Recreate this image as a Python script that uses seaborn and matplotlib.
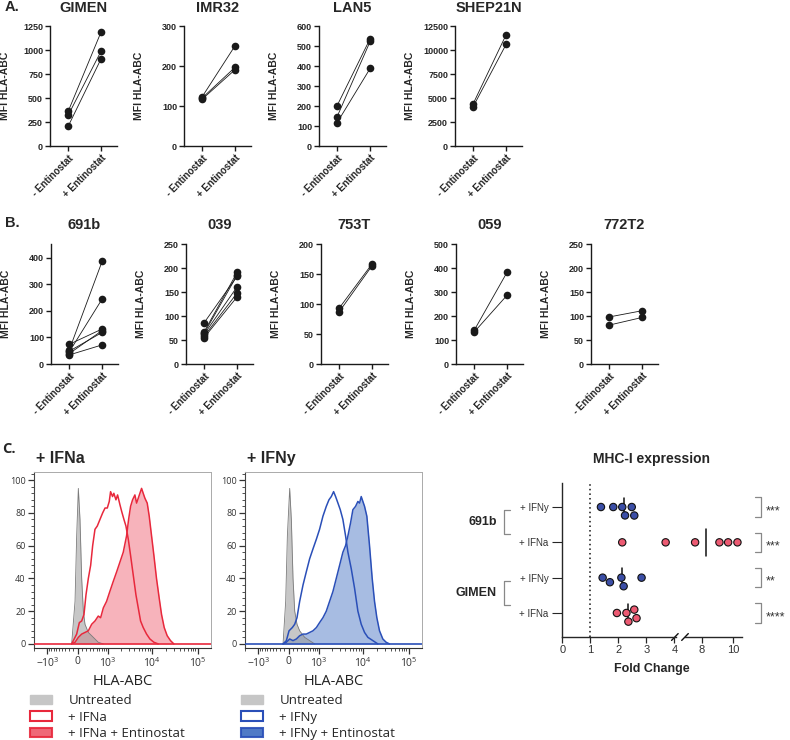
import matplotlib
matplotlib.use('Agg')
import matplotlib.pyplot as plt
import matplotlib.ticker as mticker
import matplotlib.transforms as mtransforms
from matplotlib.patches import Patch
import numpy as np
import pandas as pd
import seaborn as sns

# ---- panel A / B : paired MFI values (- / + Entinostat) ----
COND = ['- Entinostat', '+ Entinostat']

A_NAMES = ['GIMEN', 'IMR32', 'LAN5', 'SHEP21N']
A_MINUS = [[360, 320, 205], [123, 120, 117], [202, 147, 117], [4400, 4100]]
A_PLUS = [[1190, 990, 910], [251, 197, 191], [537, 523, 388], [11600, 10600]]
A_YTICKS = [[0, 250, 500, 750, 1000, 1250], [0, 100, 200, 300],
            [0, 100, 200, 300, 400, 500, 600], [0, 2500, 5000, 7500, 10000, 12500]]
A_YMAX = [1250, 300, 600, 12500]

B_NAMES = ['691b', '039', '753T', '059', '772T2']
B_MINUS = [[52, 45, 74, 39, 48, 34], [86, 67, 62, 58, 55, 64], [93, 87], [140, 133], [98, 81]]
B_PLUS = [[387, 245, 132, 126, 119, 72], [183, 191, 161, 148, 140, 185], [167, 164], [383, 287], [111, 97]]
B_YTICKS = [[0, 100, 200, 300, 400], [0, 50, 100, 150, 200, 250], [0, 50, 100, 150, 200],
            [0, 100, 200, 300, 400, 500], [0, 50, 100, 150, 200, 250]]
B_YMAX = [452, 250, 200, 500, 250]

# ---- panel C : flow histograms (HLA-ABC intensity, % of max) ----
IFNA_UNT_X = [-140, -61, -23, 15, 53, 92, 131, 171, 256, 397, 562, 768]
IFNA_UNT_Y = [0, 26, 66, 95, 76, 40, 20, 12, 7, 4, 1, 0]
IFNA_ONE_X = [-140, -23, 38, 92, 147, 196, 256, 319, 377, 449, 527, 626, 738, 849, 964, 1076,
              1157, 1287, 1380, 1543, 1683, 1904, 2080, 2345, 2597, 2930, 3300, 3785, 4340,
              4887, 5500, 6295, 7470, 8850, 10850, 13500]
IFNA_ONE_Y = [0, 6, 13, 14, 18, 30, 40, 48, 60, 70, 72, 76, 80, 83, 83, 87,
              93, 90, 92, 88, 91, 85, 81, 76, 72, 64, 54, 42, 30,
              22, 14, 10, 6, 3, 1, 0]
IFNA_ENT_X = [-140, -61, 15, 92, 171, 256, 348, 449, 562, 653, 768, 927, 1110, 1330, 1600,
              1904, 2262, 2685, 2980, 3300, 3654, 4117, 4487, 4887, 5318, 5790, 6295, 6860,
              7720, 8550, 9630, 10850, 12380, 14200, 16000, 18330, 21330, 25270, 29940]
IFNA_ENT_Y = [0, 1, 4, 6, 7, 8, 12, 14, 17, 16, 22, 26, 32, 38, 44,
              50, 56, 66, 76, 84, 88, 91, 86, 89, 92, 95, 92, 89,
              86, 78, 66, 54, 40, 28, 18, 10, 5, 2, 0]

IFNY_UNT_X = [-131, -69, -30, 23, 61, 100, 140, 196, 265, 407, 576, 783]
IFNY_UNT_Y = [0, 26, 66, 95, 76, 40, 20, 12, 8, 4, 2, 0]
IFNY_ONE_X = [-131, -53, 8, 84, 140, 196, 265, 358, 459, 576, 708, 866, 1036, 1245, 1490, 1715,
              1940, 2187, 2425, 2737, 3083, 3530, 4047, 4564, 5405, 6408, 7590, 9000, 10660,
              12630, 16280, 20960]
IFNY_ONE_Y = [0, 2, 8, 10, 12, 16, 26, 36, 44, 52, 58, 64, 70, 78, 84, 88,
              90, 93, 90, 86, 82, 76, 66, 56, 46, 34, 20, 12, 7,
              4, 2, 0]
IFNY_ENT_X = [-131, -53, 23, 100, 180, 265, 358, 459, 576, 708, 866, 1036, 1245, 1490, 1775,
              2111, 2511, 2980, 3530, 4047, 4564, 5230, 5886, 6740, 7590, 8265, 9000, 9790,
              10660, 11980, 13730, 15720, 17700, 19930, 22820, 27020, 32000, 37900]
IFNY_ENT_Y = [0, 1, 3, 2, 3, 5, 6, 6, 7, 8, 10, 13, 16, 20, 26,
              32, 40, 48, 56, 60, 66, 74, 82, 84, 87, 86, 90, 87,
              84, 78, 60, 40, 26, 16, 8, 3, 1, 0]

HIST_TICKS = [-1000, 0, 1000, 10000, 100000]
HIST_TICKLABELS = ['$-10^3$', '0', '$10^3$', '$10^4$', '$10^5$']

# ---- panel C : MHC-I fold change ----
MHC_ROWS = ['691b + IFNy', '691b + IFNa', 'GIMEN + IFNy', 'GIMEN + IFNa']
MHC_TICKLABELS = ['+ IFNy', '+ IFNa', '+ IFNy', '+ IFNa']
MHC_TREAT = ['IFNy', 'IFNa', 'IFNy', 'IFNa']
MHC_VALUES = [[1.38, 1.82, 2.14, 2.24, 2.48, 2.57],
              [2.14, 3.69, 7.58, 9.12, 9.67, 10.26],
              [1.44, 1.70, 2.11, 2.19, 2.83],
              [1.95, 2.29, 2.36, 2.57, 2.65]]
MHC_CENTER = [2.19, 8.3, 2.12, 2.36]
MHC_STARS = ['***', '***', '**', '****']
MHC_CELLS = ['691b', 'GIMEN']

RED_LINE = '#e8283c'
RED_FILL = '#ee5868'
BLUE_LINE = '#2a4fb8'
BLUE_FILL = '#3d6cc0'
DOT_RED = '#ec5a72'
DOT_BLUE = '#3b4ea6'

sns.set_style('ticks')
plt.rcParams['font.family'] = ['Liberation Sans', 'DejaVu Sans']
plt.rcParams['mathtext.default'] = 'regular'

W, H = 790, 740
fig = plt.figure(figsize=(W / 100, H / 100), dpi=100)


def px_axes(left, top, right, bottom):
    return fig.add_axes([left / W, 1 - bottom / H, (right - left) / W, (bottom - top) / H])


def paired_panel(ax, name, minus, plus, yticks, ytop, pad):
    n = len(minus)
    df = pd.DataFrame({'cond': [COND[0]] * n + [COND[1]] * n,
                       'mfi': minus + plus,
                       'rep': list(range(n)) * 2})
    sns.lineplot(data=df, x='cond', y='mfi', units='rep', estimator=None, sort=False,
                 color='#1a1a1a', lw=0.6, marker='o', markersize=5.5,
                 markeredgewidth=0, ax=ax)
    ax.set_xlim(-0.55, 1.48)
    ax.set_ylim(0, ytop)
    ax.set_yticks(yticks)
    ax.set_yticklabels([str(t) for t in yticks], fontsize=6.5, fontweight='bold')
    ax.set_xticks([0, 1])
    ax.set_xticklabels(COND, rotation=45, ha='right', rotation_mode='anchor',
                       fontsize=7, fontweight='bold')
    ax.set_xlabel('')
    ax.set_ylabel('MFI HLA-ABC', fontsize=7.5, fontweight='bold')
    ax.yaxis.set_label_coords(-0.6, 0.5)
    ax.set_title(name, fontsize=10.5, fontweight='bold', pad=pad)
    sns.despine(ax=ax)
    for s in ['left', 'bottom']:
        ax.spines[s].set_linewidth(1.0)
        ax.spines[s].set_color('#1a1a1a')
    ax.tick_params(length=3.5, width=1.0, color='#1a1a1a', pad=1.5)


for i, left in enumerate([50, 184, 319, 455]):
    ax = px_axes(left, 26, left + 67, 146)
    paired_panel(ax, A_NAMES[i], A_MINUS[i], A_PLUS[i], A_YTICKS[i], A_YMAX[i], 10)

for i, left in enumerate([51, 186, 321, 456, 591]):
    ax = px_axes(left, 244, left + 67, 364)
    paired_panel(ax, B_NAMES[i], B_MINUS[i], B_PLUS[i], B_YTICKS[i], B_YMAX[i], 11)

fig.text(5 / W, 1 - 7 / H, 'A.', fontsize=10.5, fontweight='bold', va='center')
fig.text(5 / W, 1 - 223 / H, 'B.', fontsize=10.5, fontweight='bold', va='center')
fig.text(2 / W, 1 - 449 / H, 'C.', fontsize=10.5, fontweight='bold', va='center',
         family='Open Sans')


# ---- flow histograms ----
def flow_panel(ax, title, unt, one, ent, line_c, fill_c, labels):
    ax.set_xscale('asinh', linear_width=450)
    ax.fill_between(ent[0], ent[1], color=fill_c, alpha=0.45, lw=0, zorder=1)
    ax.fill_between(unt[0], unt[1], color='#9a9a9a', alpha=0.55, lw=0, zorder=2)
    sns.lineplot(x=unt[0], y=unt[1], sort=False, color='#7a7a7a', lw=0.6, ax=ax, zorder=3)
    sns.lineplot(x=one[0], y=one[1], sort=False, color=line_c, lw=1.1, ax=ax, zorder=4)
    sns.lineplot(x=ent[0], y=ent[1], sort=False, color=line_c, lw=1.1, ax=ax, zorder=4)
    ax.axhline(0, color=line_c, lw=1.2, zorder=5)
    ax.set_xlim(-2050, 198000)
    ax.set_ylim(-2.5, 105)
    ax.xaxis.set_major_locator(mticker.FixedLocator(HIST_TICKS))
    ax.xaxis.set_major_formatter(mticker.FixedFormatter(HIST_TICKLABELS))
    minor = ([-m for m in range(100, 1000, 100)] + [-2000] + list(range(100, 1000, 100))
             + list(range(2000, 10000, 1000)) + list(range(20000, 100000, 10000)))
    ax.xaxis.set_minor_locator(mticker.FixedLocator(minor))
    ax.xaxis.set_minor_formatter(mticker.NullFormatter())
    ax.yaxis.set_major_locator(mticker.MultipleLocator(20))
    ax.yaxis.set_minor_locator(mticker.AutoMinorLocator(5))
    ax.tick_params(axis='both', which='major', length=4, width=0.9, color='#333333',
                   labelsize=6.5, labelcolor='#333333', pad=2)
    ax.tick_params(axis='x', which='major', labelsize=7.5)
    ax.tick_params(axis='both', which='minor', length=2, width=0.6, color='#333333')
    for lab in ax.get_xticklabels() + ax.get_yticklabels():
        lab.set_family(['Open Sans', 'DejaVu Sans'])
    for s in ['top', 'right']:
        ax.spines[s].set_color('#aaaaaa')
        ax.spines[s].set_linewidth(0.7)
    ax.spines['left'].set_color('#444444')
    ax.spines['left'].set_linewidth(0.8)
    ax.spines['bottom'].set_color('#333333')
    ax.set_ylabel('')
    ax.set_xlabel('HLA-ABC', fontsize=10.5, family='Open Sans', color='#222222')
    ax.xaxis.set_label_coords(0.5, -0.15)
    ax.text(0.01, 1.075, title, transform=ax.transAxes, fontsize=11.5, fontweight='bold',
            va='center', ha='left')
    handles = [Patch(facecolor='#c6c6c6', edgecolor='#c6c6c6', label=labels[0]),
               Patch(facecolor='white', edgecolor=line_c, lw=1.5, label=labels[1]),
               Patch(facecolor=fill_c, edgecolor=line_c, lw=1.5, alpha=0.9, label=labels[2])]
    ax.legend(handles=handles, loc='upper left', bbox_to_anchor=(-0.025, -0.262),
              frameon=False, prop={'family': 'Open Sans', 'size': 9.5},
              handlelength=1.7, handleheight=0.7, handletextpad=1.25,
              labelspacing=0.27, borderpad=0, borderaxespad=0)


ax_a = px_axes(34, 472, 211, 648)
flow_panel(ax_a, '+ IFNa', (IFNA_UNT_X, IFNA_UNT_Y), (IFNA_ONE_X, IFNA_ONE_Y),
           (IFNA_ENT_X, IFNA_ENT_Y), RED_LINE, RED_FILL,
           ['Untreated', '+ IFNa', '+ IFNa + Entinostat'])
ax_y = px_axes(245, 472, 422, 648)
flow_panel(ax_y, '+ IFNy', (IFNY_UNT_X, IFNY_UNT_Y), (IFNY_ONE_X, IFNY_ONE_Y),
           (IFNY_ENT_X, IFNY_ENT_Y), BLUE_LINE, BLUE_FILL,
           ['Untreated', '+ IFNy', '+ IFNy + Entinostat'])

# ---- MHC-I fold change dot plot with broken x axis ----
rows, vals, treats = [], [], []
for r, t, v in zip(MHC_ROWS, MHC_TREAT, MHC_VALUES):
    rows += [r] * len(v)
    treats += [t] * len(v)
    vals += v
df_mhc = pd.DataFrame({'row': rows, 'fc': vals, 'treat': treats})

ax1 = px_axes(562.3, 483, 676, 637)
ax2 = px_axes(685, 483, 741.7, 637)
for ax in (ax1, ax2):
    sns.swarmplot(data=df_mhc, x='fc', y='row', hue='treat', order=MHC_ROWS,
                  palette={'IFNy': DOT_BLUE, 'IFNa': DOT_RED}, size=5.3,
                  edgecolor='#111111', linewidth=0.8, legend=False, ax=ax, zorder=3)
    for i, c in enumerate(MHC_CENTER):
        half = 0.38 if i == 1 else 0.26
        ax.plot([c, c], [i - half, i + half], color='#111111', lw=1.1, zorder=2)
    ax.set_ylim(3.68, -0.68)
    ax.set_xlabel('')
    ax.set_ylabel('')
    sns.despine(ax=ax)
    ax.spines['bottom'].set_linewidth(1.0)
    ax.tick_params(axis='x', length=4, width=0.9, labelsize=8, labelcolor='#333333', pad=2)

ax1.set_xlim(0, 4.06)
ax1.set_xticks([0, 1, 2, 3, 4])
ax1.axvline(1, color='#111111', lw=1.1, ls=(0, (1, 2)), zorder=1)
ax1.set_yticks(range(len(MHC_ROWS)))
ax1.set_yticklabels(MHC_TICKLABELS, fontsize=7, color='#333333')
ax1.tick_params(axis='y', length=7, width=0.8, pad=3)
ax1.spines['left'].set_linewidth(1.0)

ax2.set_xlim(6.94, 10.53)
ax2.set_xticks([8, 10])
ax2.spines['left'].set_visible(False)
ax2.set_yticks([])

# break marks on the x axis
for ax, xc in ((ax1, 0.99), (ax2, 0.0)):
    w = ax.get_position().width * W
    hgt = ax.get_position().height * H
    ax.plot([xc - 3.3 / w, xc + 3.3 / w], [-3.4 / hgt, 3.4 / hgt], transform=ax.transAxes,
            color='#111111', lw=1.0, clip_on=False)

# cell-line brackets on the left
tl = mtransforms.blended_transform_factory(ax1.transAxes, ax1.transData)
for k, cell in enumerate(MHC_CELLS):
    y0, y1 = 2 * k + 0.09, 2 * k + 0.77
    ax1.plot([-0.46, -0.513, -0.513, -0.46], [y0, y0, y1, y1], transform=tl,
             color='#888888', lw=0.9, clip_on=False)
    ax1.text(-0.575, 2 * k + 0.43, cell, transform=tl, ha='right', va='center',
             fontsize=9, fontweight='bold')

# significance brackets on the right
tr = mtransforms.blended_transform_factory(ax2.transAxes, ax2.transData)
for i, s in enumerate(MHC_STARS):
    y0, y1 = i - 0.27, i + 0.27
    ax2.plot([1.235, 1.34, 1.34, 1.235], [y0, y0, y1, y1], transform=tr,
             color='#888888', lw=0.9, clip_on=False)
    ax2.text(1.43, i + 0.12, s, transform=tr, ha='left', va='center', fontsize=9,
             color='#333333')

fig.text(651.8 / W, 1 - 459 / H, 'MHC-I expression', ha='center', va='center',
         fontsize=10, fontweight='bold')
fig.text(651.8 / W, 1 - 669 / H, 'Fold Change', ha='center', va='center',
         fontsize=9, fontweight='bold')

fig.savefig('out.png', dpi=100)
